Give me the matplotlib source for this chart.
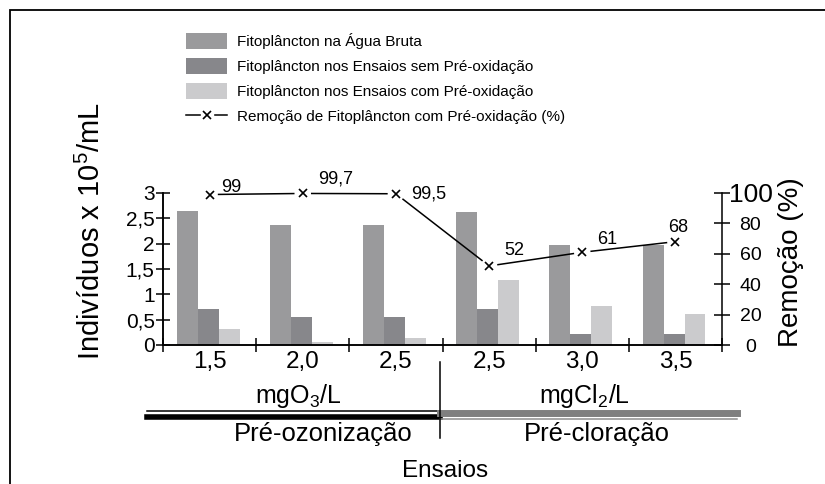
import numpy as np
import matplotlib
matplotlib.use("Agg")
import matplotlib.pyplot as plt
from matplotlib.patches import Patch, Rectangle
from matplotlib.lines import Line2D
from matplotlib.legend_handler import HandlerTuple

plt.rcParams["font.family"] = ["Liberation Sans", "DejaVu Sans"]
plt.rcParams["mathtext.fontset"] = "custom"
plt.rcParams["mathtext.rm"] = "Liberation Sans"
plt.rcParams["mathtext.it"] = "Liberation Sans"

# data
doses = ["1,5", "2,0", "2,5", "2,5", "3,0", "3,5"]
agua_bruta = [2.65, 2.37, 2.37, 2.63, 1.97, 1.97]
sem_preox = [0.71, 0.55, 0.55, 0.71, 0.21, 0.21]
com_preox = [0.31, 0.06, 0.13, 1.28, 0.77, 0.62]
remocao = [99, 99.7, 99.5, 52, 61, 68]
remocao_txt = ["99", "99,7", "99,5", "52", "61", "68"]

legend_labels = [
    "Fitoplâncton na Água Bruta",
    "Fitoplâncton nos Ensaios sem Pré-oxidação",
    "Fitoplâncton nos Ensaios com Pré-oxidação",
    "Remoção de Fitoplâncton com Pré-oxidação (%)",
]
colors = ["#9a9a9c", "#87878b", "#cbcbcd"]

W, H = 825, 484


def fx(x):
    return x / W


def fy(y):
    return 1 - y / H


fig = plt.figure(figsize=(W / 100, H / 100), dpi=100)

ax = fig.add_axes([fx(163), fy(345), fx(722 - 163), (345 - 193) / H])
ax2 = ax.twinx()

x = np.arange(len(doses)) + 0.5
bw = 0.225
for vals, off, c in zip([agua_bruta, sem_preox, com_preox], [-0.24, -0.015, 0.21], colors):
    ax.bar(x + off, vals, width=bw, color=c, zorder=2)

ax.set_xlim(0, len(doses))
ax.set_ylim(0, 3)
ax2.set_ylim(0, 100)

ax.set_yticks(np.arange(0, 3.01, 0.5))
ax.set_yticklabels(["0", "0,5", "1", "1,5", "2", "2,5", "3"])
ax.set_xticks(np.arange(0, len(doses) + 1))
ax.set_xticklabels([])
ax.set_xticks(x, minor=True)
ax.set_xticklabels(doses, minor=True)
ax.tick_params(axis="x", which="major", direction="inout", length=10, width=1.1)
ax.tick_params(axis="x", which="minor", length=0, pad=4, labelsize=17.5)
ax.tick_params(axis="y", direction="inout", length=10, width=1.1, pad=1, labelsize=15)

ax2.set_yticks([0, 20, 40, 60, 80, 100])
ax2.tick_params(axis="y", direction="inout", length=11, width=1.1, pad=15, labelsize=14)
for t in ax2.get_yticklabels():
    t.set_horizontalalignment("center")
ax2.get_yticklabels()[-1].set_fontsize(19)

for a in (ax, ax2):
    a.spines["top"].set_visible(False)
    for s in a.spines.values():
        s.set_linewidth(1.1)
ax.spines["right"].set_visible(False)

# removal line with small gaps around the markers
pts = ax2.transData.transform(np.column_stack([x, remocao]))
gap = 9
inv = ax2.transData.inverted()
for i in range(len(pts) - 1):
    p0, p1 = pts[i], pts[i + 1]
    u = (p1 - p0) / np.hypot(*(p1 - p0))
    a0, a1 = inv.transform([p0 + u * gap, p1 - u * gap])
    ax2.plot([a0[0], a1[0]], [a0[1], a1[1]], color="black", lw=1.1, zorder=3, clip_on=False)
ax2.plot(x, remocao, ls="none", marker="x", ms=6, mew=1.2, color="black", zorder=4, clip_on=False)

label_offsets = [(12, 3), (15, 10), (15, -5), (15, 11), (15, 8), (-7, 10)]
for xi, yi, txt, off in zip(x, remocao, remocao_txt, label_offsets):
    ax2.annotate(txt, (xi, yi), xytext=off, textcoords="offset pixels",
                 ha="left", va="baseline", fontsize=13, annotation_clip=False)

# axis titles
fig.text(fx(91), fy(231), "Indivíduos x 10$^5$/mL", rotation=90,
         ha="center", va="center", fontsize=21)
fig.text(fx(791), fy(262), "Remoção (%)", rotation=90,
         ha="center", va="center", fontsize=20)

# group annotations below the axis
fig.text(fx(298), fy(403), "mgO$_3$/L", ha="center", va="baseline", fontsize=18)
fig.text(fx(584), fy(403), "mgCl$_2$/L", ha="center", va="baseline", fontsize=18)
fig.text(fx(323), fy(441), "Pré-ozonização", ha="center", va="baseline", fontsize=18.5)
fig.text(fx(597), fy(441), "Pré-cloração", ha="center", va="baseline", fontsize=18.5)
fig.text(fx(445), fy(477), "Ensaios", ha="center", va="baseline", fontsize=17.5)

tf = fig.transFigure
fig.add_artist(Line2D([fx(147), fx(440)], [fy(411), fy(411)], color="black", lw=1.1, transform=tf))
fig.add_artist(Line2D([fx(147), fx(440)], [fy(417), fy(417)], color="black", lw=4, transform=tf))
fig.add_artist(Line2D([fx(440), fx(737)], [fy(413), fy(413)], color="#7f7f7f", lw=5, transform=tf))
fig.add_artist(Line2D([fx(440), fx(737)], [fy(419), fy(419)], color="#8c8c8c", lw=1.1, transform=tf))
fig.add_artist(Line2D([fx(440), fx(440)], [fy(362), fy(438)], color="black", lw=1.1, transform=tf))

# outer frame
fig.add_artist(Rectangle((fx(10), -0.05), 1.0, 1 - 10 / H + 0.05, transform=tf,
                         fill=False, lw=1.3, ec="black"))

handles = [Patch(facecolor=c) for c in colors]
handles.append((
    Line2D([], [], color="black", lw=1.1),
    Line2D([], [], ls="none", marker="s", ms=9, mfc="white", mec="white"),
    Line2D([], [], ls="none", marker="x", ms=6, mew=1.2, color="black"),
))
fig.legend(handles, legend_labels, loc="upper left", bbox_to_anchor=(fx(186), fy(33)),
           frameon=False, fontsize=11, handlelength=2.7, handleheight=1.2,
           labelspacing=0.6, handletextpad=0.65, borderaxespad=0, borderpad=0,
           handler_map={tuple: HandlerTuple(ndivide=1)})

fig.savefig("out.png", dpi=100)
